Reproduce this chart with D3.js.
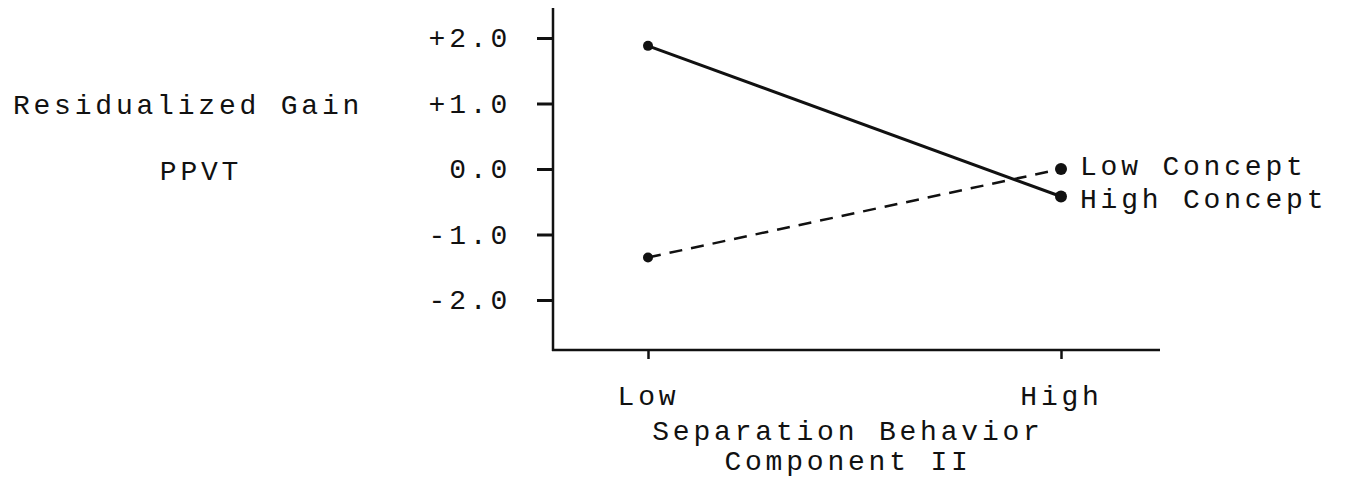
<!DOCTYPE html>
<html>
<head>
<meta charset="utf-8">
<script src="https://cdn.jsdelivr.net/npm/d3@7"></script>
<style>
  body { margin: 0; background: #fff; }
  text { font-family: "Liberation Mono", "DejaVu Sans Mono", monospace; fill: #111; }
</style>
</head>
<body>
<svg id="chart"></svg>
<script>
// chart data
const categories = ["Low", "High"];
const seriesNames = ["Low Concept", "High Concept"];
const lowConcept = [-1.35, 0.0];
const highConcept = [1.88, -0.42];
const yTicks = [2, 1, 0, -1, -2];
const yTickLabels = ["+2.0", "+1.0", "0.0", "-1.0", "-2.0"];

let width = 1347, height = 480;

let svg = d3.select("#chart")
    .attr("width", width)
    .attr("height", height);

const fontSize = 28, spacing = 3.8;

// scales
const xScale = d3.scalePoint()
    .domain(categories)
    .range([648, 1061]);

const yScale = d3.scaleLinear()
    .domain([-2, 2])
    .range([300, 38]);

// y axis (ticks + labels)
let yAxis = svg.append("g")
    .attr("transform", "translate(553,0)")
    .call(d3.axisLeft(yScale)
        .tickValues(yTicks)
        .tickFormat((d, i) => yTickLabels[i])
        .tickSize(16)
        .tickPadding(26));
yAxis.select(".domain").remove();
yAxis.selectAll("line").attr("stroke", "#111").attr("stroke-width", 3);
yAxis.selectAll("text")
    .style("font-size", fontSize + "px")
    .style("letter-spacing", spacing + "px")
    .attr("fill", "#111");

// axis lines
svg.append("line")
    .attr("x1", 553).attr("x2", 553)
    .attr("y1", 8).attr("y2", 351)
    .attr("stroke", "#111").attr("stroke-width", 2.5);

svg.append("line")
    .attr("x1", 552).attr("x2", 1160)
    .attr("y1", 350).attr("y2", 350)
    .attr("stroke", "#111").attr("stroke-width", 2.5);

// x axis ticks + labels
let xAxis = svg.append("g")
    .attr("transform", "translate(0,350)")
    .call(d3.axisBottom(xScale).tickSize(9).tickPadding(26));
xAxis.select(".domain").remove();
xAxis.selectAll("line").attr("stroke", "#111").attr("stroke-width", 2.5);
xAxis.selectAll("text")
    .style("font-size", fontSize + "px")
    .style("letter-spacing", spacing + "px")
    .attr("fill", "#111");

// axis titles
svg.append("text")
    .attr("x", 188).attr("y", 114)
    .attr("text-anchor", "middle")
    .style("font-size", fontSize + "px")
    .style("letter-spacing", spacing + "px")
    .text("Residualized Gain");

svg.append("text")
    .attr("x", 201).attr("y", 180)
    .attr("text-anchor", "middle")
    .style("font-size", fontSize + "px")
    .style("letter-spacing", spacing + "px")
    .text("PPVT");

svg.append("text")
    .attr("x", 848).attr("y", 440)
    .attr("text-anchor", "middle")
    .style("font-size", fontSize + "px")
    .style("letter-spacing", spacing + "px")
    .text("Separation Behavior");

svg.append("text")
    .attr("x", 848).attr("y", 470)
    .attr("text-anchor", "middle")
    .style("font-size", fontSize + "px")
    .style("letter-spacing", spacing + "px")
    .text("Component II");

// lines
let line = d3.line()
    .x((d, i) => xScale(categories[i]))
    .y(d => yScale(d));

svg.append("path")
    .datum(highConcept)
    .attr("d", line)
    .attr("fill", "none")
    .attr("stroke", "#111")
    .attr("stroke-width", 3);

svg.append("path")
    .datum(lowConcept)
    .attr("d", line)
    .attr("fill", "none")
    .attr("stroke", "#111")
    .attr("stroke-width", 2.5)
    .attr("stroke-dasharray", "13,9");

// points
[lowConcept, highConcept].forEach(series => {
    svg.append("g")
        .selectAll("circle")
        .data(series)
        .enter()
        .append("circle")
        .attr("cx", (d, i) => xScale(categories[i]))
        .attr("cy", d => yScale(d))
        .attr("r", (d, i) => i == 0 ? 5 : 6)
        .attr("fill", "#111");
});

// series labels at the right end (pushed slightly apart)
svg.append("g")
    .selectAll("text")
    .data([lowConcept, highConcept])
    .enter()
    .append("text")
    .attr("x", xScale("High") + 19)
    .attr("y", (d, i) => yScale(d[1]) + (i == 0 ? 6 : 11))
    .style("font-size", fontSize + "px")
    .style("letter-spacing", spacing + "px")
    .text((d, i) => seriesNames[i]);
</script>
</body>
</html>
